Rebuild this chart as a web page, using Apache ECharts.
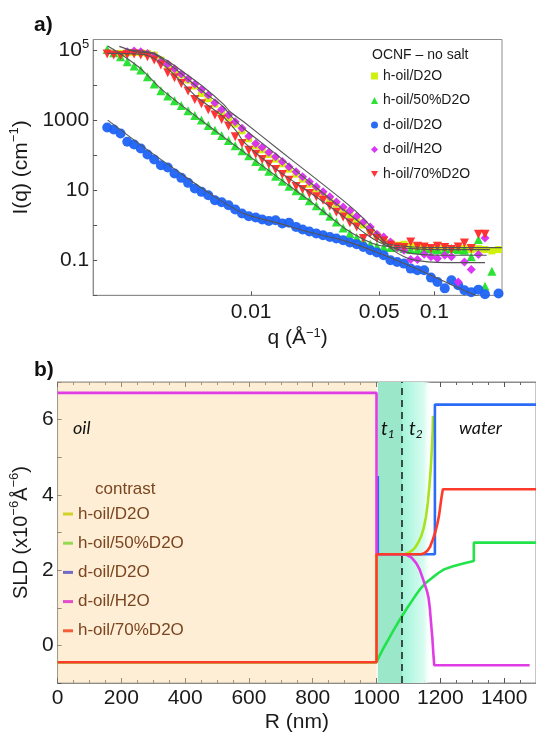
<!DOCTYPE html>
<html><head><meta charset="utf-8">
<script src="https://cdn.jsdelivr.net/npm/echarts@6/dist/echarts.min.js"></script>
<style>html,body{margin:0;padding:0;background:#fff}#c{width:536px;height:734px}</style>
</head><body><div id="c"></div>
<script>
// ---------- panel a : SANS intensity I(q) ----------
const qGrid = [0.00164,0.00178,0.00194,0.00211,0.00230,0.00250,0.00272,0.00296,0.00322,0.00351,
 0.00382,0.00416,0.00453,0.00493,0.00536,0.00584,0.00635,0.00691,0.00753,0.00819,
 0.00892,0.00971,0.0106,0.0115,0.0125,0.0136,0.0148,0.0161,0.0176,0.0191,
 0.0208,0.0227,0.0247,0.0269,0.0292,0.0318,0.0346,0.0377,0.0410,0.0447,
 0.0486,0.0529,0.0576,0.0627,0.0683,0.0743,0.0809,0.0880,0.0958,0.104,
 0.114,0.124,0.135,0.146,0.159,0.174,0.189,0.206,0.224];

const I_hOilD2O = [null,null,80340,83900,85770,83900,80340,71970,51800,37280,
 26830,19310,13890,9364,5781,4074,2865,1730,1191,769,
 495,293,189,142,104.5,76.9,56.5,39.8,28.6,20.6,
 14.8,10.7,7.69,5.53,3.98,2.80,2.02,1.45,1.02,0.72,
 0.518,0.389,0.313,0.268,0.287,0.251,0.240,0.230,0.215,0.215,
 0.230,0.215,0.202,0.215,0.202,0.215,0.202,0.185,0.202];

const I_hOil50 = [104500,83900,64500,46420,34900,26830,17300,10680,6890,4850,
 3568,2624,1848,1359,1000,704,518,365,262,185,
 133,95.7,65.9,48.5,34.9,25.1,18.1,13.0,9.57,7.04,
 4.96,3.57,2.57,1.81,1.245,0.839,0.578,0.444,0.357,0.287,
 0.251,0.240,0.230,0.240,0.215,0.202,0.202,0.215,0.211,0.202,
 0.202,0.215,0.202,0.193,0.125,0.389,0.0181,0.0485,null];

const I_dOilD2O = [617,541,416,240,202,155,104.5,75.2,51.8,44.4,
 29.9,22.5,16.2,11.2,8.96,7.20,5.18,4.54,3.73,2.80,
 2.15,1.81,1.66,1.45,1.33,1.39,1.12,1.17,0.896,0.752,
 0.659,0.578,0.518,0.464,0.416,0.373,0.320,0.287,0.240,0.193,
 0.166,0.139,0.100,0.0896,0.0803,0.0578,0.0518,0.0518,0.0320,0.0240,
 0.0158,0.0268,0.0193,0.0139,0.0122,0.0145,0.0107,null,0.0112];

const I_dOilH2O = [null,null,null,89650,93630,89650,80340,67410,47400,39810,
 29290,20620,15180,10680,7517,5180,3126,2017,1389,896,
 590,349,215,168,122,89.6,65.9,46.4,33.4,24.0,
 17.3,12.45,8.96,6.45,4.64,3.34,2.57,1.81,1.245,0.896,
 0.553,0.464,0.334,0.230,0.193,0.1045,0.1045,0.148,0.125,0.1116,
 0.139,0.125,0.0240,0.0896,0.0541,0.145,0.435,null,null];

const I_hOil70 = [76900,71970,70400,73560,76900,71970,64500,51800,37280,22510,
 16200,11160,6745,3895,2930,1973,1389,1045,674,335,
 215,139,107,75.2,55.3,38.9,28.0,19.3,12.7,10.4,
 8.03,6.45,5.18,3.49,2.35,1.73,1.17,0.896,0.416,0.578,
 0.416,0.357,0.268,0.240,0.230,0.334,0.251,0.240,0.215,0.251,
 0.230,0.202,0.240,0.313,0.215,0.553,0.553,null,null];

// model fits [q, I]
const fit_hOilD2O = [[0.00191,127300],[0.00235,89650],[0.0029,80340],[0.00344,46420],[0.00425,19310],[0.00548,6449],[0.00706,2404],[0.00769,1389],[0.00911,578],[0.0139,100],[0.0213,15.5],[0.0325,2.57],[0.0402,1.068],[0.0456,0.578],[0.0541,0.299],[0.0759,0.240],[0.116,0.230],[0.234,0.230]];
const fit_hOil50 = [[0.00165,130000],[0.00198,71970],[0.00255,26830],[0.00316,8577],[0.0039,3490],[0.00596,645],[0.00911,124.5],[0.0139,24.0],[0.0213,4.64],[0.0263,1.93],[0.0325,0.803],[0.0402,0.416],[0.0497,0.268],[0.0759,0.215],[0.116,0.2017],[0.201,0.2017]];
const fit_dOilD2O = [[0.00165,1000],[0.00255,181],[0.0039,37.3],[0.00596,8.03],[0.00911,2.15],[0.0139,1.166],[0.0213,0.617],[0.0325,0.357],[0.0497,0.162],[0.0759,0.0645],[0.116,0.0235],[0.170,0.00978],[0.201,0.0072]];
const fit_dOilH2O = [[0.00211,100000],[0.0029,83900],[0.00344,51800],[0.00425,24040],[0.00548,8960],[0.00706,2865],[0.00769,1730],[0.00911,896],[0.0139,155],[0.0213,26.8],[0.0325,4.64],[0.0402,1.73],[0.0497,0.518],[0.0614,0.173],[0.0759,0.1045],[0.116,0.0858],[0.189,0.0858]];
const fit_hOil70 = [[0.00165,80340],[0.00255,75200],[0.00302,54120],[0.00358,26830],[0.00425,11160],[0.00503,4642],[0.00596,2404],[0.00706,1245],[0.00837,464],[0.00911,240],[0.0139,37.3],[0.0213,8.03],[0.0325,1.66],[0.0419,0.578],[0.0497,0.334],[0.0614,0.215],[0.0759,0.155],[0.116,0.139],[0.193,0.139]];

const qTickLabels = [0.01, 0.05, 0.1];
const iTickLabels = [0.1, 10, 1000, 100000];
const iTicks = [0.01, 0.1, 1, 10, 100, 1000, 10000, 100000];

// ---------- panel b : SLD profiles [R (nm), SLD] ----------
const sld_hOilD2O = [[0,-0.45],[1000,-0.45],[1000,2.42],[1080,2.42],[1090,2.43],[1100,2.46],[1110,2.51],[1120,2.59],[1130,2.72],[1140,2.9],[1148,3.12],[1155,3.42],[1161,3.8],[1166,4.25],[1170,4.7],[1173,5.15],[1176,5.7],[1177,6.1]];
const sld_hOil50 = [[0,-0.45],[1000,-0.45],[1010,-0.27],[1020,-0.1],[1030,0.05],[1040,0.2],[1050,0.35],[1060,0.5],[1070,0.64],[1083,0.82],[1095,0.98],[1110,1.17],[1125,1.36],[1140,1.53],[1157,1.68],[1175,1.8],[1195,1.93],[1212,2.02],[1235,2.09],[1260,2.15],[1285,2.2],[1305,2.24],[1305,2.73],[1500,2.73]];
const sld_dOilD2O = [[1004,4.5],[1004,2.42],[1183,2.42],[1183,6.4],[1500,6.4]];
const sld_dOilH2O = [[0,6.71],[1000,6.71],[1000,2.42],[1080,2.42],[1095,2.4],[1110,2.33],[1125,2.18],[1135,2.02],[1145,1.78],[1152,1.6],[1158,1.45],[1163,1.27],[1167,1.0],[1171,0.6],[1175,0.2],[1178,-0.2],[1181,-0.53],[1480,-0.53]];
const sld_hOil70 = [[0,-0.45],[1000,-0.45],[1000,2.42],[1140,2.42],[1150,2.45],[1160,2.52],[1168,2.62],[1176,2.8],[1184,3.0],[1190,3.2],[1196,3.45],[1200,3.7],[1204,3.95],[1208,4.15],[1500,4.15]];

const regionOil = [0, 1000];
const regionT1 = [1004, 1080];
const regionT2 = [1080, 1172];
const interfaceR = 1080;

const names = ['h-oil/D2O','h-oil/50%D2O','d-oil/D2O','d-oil/H2O','h-oil/70%D2O'];

// ---------- chart ----------
const FF = '"Liberation Sans", Arial, sans-serif';
const pairs = arr => qGrid.map((q,i)=>[q, arr[i]]).filter(p => p[1] != null);
const downTri = 'path://M0,0L10,0L5,8.66Z';
const scatterDefs = [
  {name:names[0], data:I_hOilD2O, color:'#CCF000', symbol:'rect', size:7},
  {name:names[1], data:I_hOil50, color:'#1FE22A', symbol:'triangle', size:9},
  {name:names[2], data:I_dOilD2O, color:'#1F63F5', symbol:'circle', size:10},
  {name:names[3], data:I_dOilH2O, color:'#D82CF5', symbol:'diamond', size:9},
  {name:names[4], data:I_hOil70, color:'#FF2A2A', symbol:downTri, size:9}
];
const fits = [fit_hOil50, fit_dOilD2O, fit_hOilD2O, fit_dOilH2O, fit_hOil70];

const series = [];
scatterDefs.forEach(d => series.push({
  type:'scatter', name:d.name, xAxisIndex:0, yAxisIndex:0,
  data: pairs(d.data), symbol:d.symbol, symbolSize:d.size,
  itemStyle:{color:d.color, opacity:0.95}, z:2
}));
fits.forEach((f,i) => series.push({
  type:'line', name:'fit'+i, xAxisIndex:0, yAxisIndex:0, data:f,
  showSymbol:false, smooth:0.25, lineStyle:{color:'#555', width:1.1}, z:3, silent:true
}));

// background regions of panel b
series.push({
  type:'line', name:'regions', xAxisIndex:1, yAxisIndex:1, data:[], z:1, silent:true,
  markArea:{silent:true, data:[
    [{xAxis:regionOil[0], yAxis:-1, itemStyle:{color:'rgba(252,215,155,0.42)'}}, {xAxis:regionOil[1], yAxis:7}],
    [{xAxis:regionT1[0], yAxis:-1, itemStyle:{color:'#9BE7CA'}}, {xAxis:regionT1[1], yAxis:7}],
    [{xAxis:regionT2[0], yAxis:-1, itemStyle:{color:{type:'linear',x:0,y:0,x2:1,y2:0,colorStops:[{offset:0,color:'#A2F5DA'},{offset:0.75,color:'#D8FBF0'},{offset:1,color:'rgba(255,255,255,0)'}]}}}, {xAxis:regionT2[1], yAxis:7}]
  ]},
  markLine:{silent:true, symbol:['none','none'], label:{show:false},
    lineStyle:{color:'#222', type:[7,5], width:1.6}, data:[{xAxis:interfaceR}]}
});
const lineDefs = [
  {name:names[1], data:sld_hOil50, color:'#22E34A'},
  {name:names[0], data:sld_hOilD2O, color:'#A8E21E'},
  {name:names[2], data:sld_dOilD2O, color:'#2A6CF5'},
  {name:names[3], data:sld_dOilH2O, color:'#E03CE6'},
  {name:names[4], data:sld_hOil70, color:'#FF3A2A'}
];
lineDefs.forEach((d,i) => series.push({
  type:'line', name:d.name, xAxisIndex:1, yAxisIndex:1, data:d.data,
  showSymbol:false, lineStyle:{color:d.color, width:2.6}, itemStyle:{color:d.color}, z:3+i, silent:true
}));

const axisCol = '#8c8c8c';
const txt = '#1a1a1a';
const legendBColors = ['#CFCF1E','#8ED84A','#6A62C6','#E044C8','#F2542E'];

const option = {
  animation:false,
  backgroundColor:'#fff',
  grid:[
    {left:87, right:34, top:39.5, bottom:438.7, show:true, borderColor:axisCol, borderWidth:1},
    {left:50.7, right:-3, top:382, bottom:50.5, show:true, borderColor:axisCol, borderWidth:1}
  ],
  xAxis:[
    {type:'log', gridIndex:0, min:0.001374, max:0.234, splitLine:{show:false},
     axisLine:{onZero:false, lineStyle:{color:axisCol}},
     axisTick:{inside:true, length:4, customValues:qTickLabels, lineStyle:{color:'#555'}},
     axisLabel:{customValues:qTickLabels, margin:6, fontSize:21, color:txt, fontFamily:FF,
       formatter: v => String(+(+v).toPrecision(4))},
     name:'q (Å{s|−1})', nameLocation:'middle', nameGap:32,
     nameTextStyle:{fontSize:21, color:txt, fontFamily:FF,
       rich:{s:{fontSize:13, verticalAlign:'top', color:txt, fontFamily:FF}}}},
    {type:'value', gridIndex:1, min:0, max:1500, interval:200, splitLine:{show:false},
     axisLine:{onZero:false, lineStyle:{color:axisCol}},
     axisTick:{inside:true, length:5, lineStyle:{color:'#555'}},
     minorTick:{show:true, splitNumber:4, length:3, lineStyle:{color:'#666'}},
     axisLabel:{margin:5, fontSize:21, color:txt, fontFamily:FF, showMaxLabel:false,
       formatter: v => String(v)},
     name:'R (nm)', nameLocation:'middle', nameGap:29,
     nameTextStyle:{fontSize:21, color:txt, fontFamily:FF}},
    {type:'value', gridIndex:1, position:'top', min:0, max:1500, interval:200, splitLine:{show:false},
     axisLine:{onZero:false, lineStyle:{color:axisCol}},
     axisTick:{inside:true, length:5, lineStyle:{color:'#555'}},
     minorTick:{show:true, splitNumber:4, length:3, lineStyle:{color:'#666'}},
     axisLabel:{show:false}}
  ],
  yAxis:[
    {type:'log', gridIndex:0, min:0.01, max:200000, splitLine:{show:false},
     axisLine:{onZero:false, lineStyle:{color:axisCol}},
     axisTick:{inside:true, length:4, customValues:iTicks, lineStyle:{color:'#555'}},
     axisLabel:{customValues:iTickLabels, margin:4, fontFamily:FF,
       formatter: v => (+v >= 99999 ? '{n|10}{s|5}' : '{n|' + String(+(+v).toPrecision(4)) + '}'),
       rich:{n:{fontSize:21, color:txt, fontFamily:FF, lineHeight:24},
             s:{fontSize:13, color:txt, fontFamily:FF, verticalAlign:'top'}}},
     name:'{n|I(q) (cm}{s|−1}{n|)}', nameLocation:'middle', nameGap:53,
     nameTextStyle:{rich:{n:{fontSize:21, color:txt, fontFamily:FF, lineHeight:26},
                          s:{fontSize:13, color:txt, fontFamily:FF, verticalAlign:'top'}}}},
    {type:'value', gridIndex:1, min:-1, max:7, interval:1, splitLine:{show:false},
     axisLine:{onZero:false, lineStyle:{color:axisCol}},
     axisTick:{inside:true, length:4, lineStyle:{color:'#555'}},
     axisLabel:{margin:4, fontSize:21, color:txt, fontFamily:FF,
       formatter: v => (Math.round(v) % 2 === 0 ? String(v) : '')},
     name:'{n|SLD (x10}{s|−6}{n|Å}{s|−6}{n|)}', nameLocation:'middle', nameGap:19,
     nameTextStyle:{rich:{n:{fontSize:20, color:txt, fontFamily:FF, lineHeight:26},
                          s:{fontSize:13, color:txt, fontFamily:FF, verticalAlign:'top'}}}}
  ],
  legend:[
    {orient:'vertical', left:371, top:68, padding:0, itemWidth:7, itemHeight:7, itemGap:8.5,
     textStyle:{fontSize:14, lineHeight:16, color:txt, fontFamily:FF},
     data:[{name:names[0], icon:'rect'},{name:names[1], icon:'triangle'},{name:names[2], icon:'circle'},{name:names[3], icon:'diamond'},{name:names[4], icon:downTri}]},
    {orient:'vertical', left:63, top:504, padding:0, itemWidth:10, itemHeight:3, itemGap:9.2,
     textStyle:{fontSize:17, lineHeight:20, color:'#7A4520', fontFamily:FF},
     data: names.map((n,i)=>({name:n, icon:'rect', itemStyle:{color:legendBColors[i], borderWidth:0}}))}
  ],
  graphic:[
    {type:'text', z:100, left:34, top:15, style:{text:'a)', font:'bold 21px "Liberation Sans", Arial', fill:'#111'}},
    {type:'text', z:100, left:34, top:360, style:{text:'b)', font:'bold 21px "Liberation Sans", Arial', fill:'#111'}},
    {type:'text', z:100, left:372, top:48, style:{text:'OCNF – no salt', font:'14px "Liberation Sans", Arial', fill:txt}},
    {type:'text', z:100, left:95, top:481, style:{text:'contrast', font:'17px "Liberation Sans", Arial', fill:'#7A4520'}},
    {type:'text', z:100, left:73, top:419, style:{text:'oil', font:'italic 18px Lato, "Open Sans", sans-serif', fill:'#111'}},
    {type:'text', z:100, left:459, top:419, style:{text:'water', font:'italic 18px Lato, "Open Sans", sans-serif', fill:'#111'}},
    {type:'text', z:100, left:381, top:419, style:{text:'{t|t}{s|1}', rich:{t:{font:'italic 19px Lato, sans-serif', fill:'#111', lineHeight:24}, s:{font:'italic 12px Lato, sans-serif', fill:'#111', verticalAlign:'bottom'}}}},
    {type:'text', z:100, left:409, top:419, style:{text:'{t|t}{s|2}', rich:{t:{font:'italic 19px Lato, sans-serif', fill:'#111', lineHeight:24}, s:{font:'italic 12px Lato, sans-serif', fill:'#111', verticalAlign:'bottom'}}}}
  ],
  series: series
};
const chart = echarts.init(document.getElementById('c'), null, {renderer:'canvas'});
chart.setOption(option);
</script></body></html>
